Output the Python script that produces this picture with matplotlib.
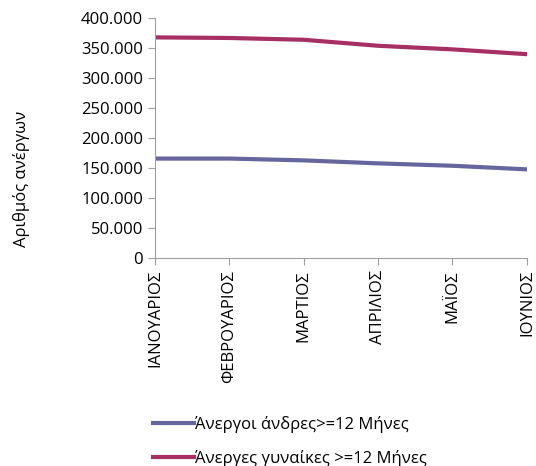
import matplotlib.pyplot as plt
from matplotlib.ticker import FuncFormatter

# Δεδομένα (εκτίμηση από το γράφημα)
months = ['ΙΑΝΟΥΑΡΙΟΣ', 'ΦΕΒΡΟΥΑΡΙΟΣ', 'ΜΑΡΤΙΟΣ', 'ΑΠΡΙΛΙΟΣ', 'ΜΑΪΟΣ', 'ΙΟΥΝΙΟΣ']
men = [166000, 166000, 163000, 158000, 154000, 148000]
women = [368000, 367000, 364000, 354000, 348000, 340000]
labels = ['Άνεργοι άνδρες>=12 Μήνες', 'Άνεργες γυναίκες >=12 Μήνες']

plt.rcParams['font.family'] = ['Open Sans', 'DejaVu Sans']

fig = plt.figure(figsize=(5.36, 4.66), dpi=100)
ax = fig.add_axes([0.289, 0.446, 0.694, 0.515])

x = range(len(months))
ax.plot(x, men, color='#66669F', lw=3, label=labels[0])
ax.plot(x, women, color='#A62F63', lw=3, label=labels[1])

ax.set_xlim(0, len(months) - 1)
ax.set_ylim(0, 400000)
ax.set_yticks(range(0, 400001, 50000))
ax.yaxis.set_major_formatter(FuncFormatter(lambda v, p: f'{int(v):,}'.replace(',', '.')))
ax.set_xticks(list(x))
ax.set_xticklabels(months, rotation=90, va='top', ha='center')

for s in ['top', 'right']:
    ax.spines[s].set_visible(False)
for s in ['left', 'bottom']:
    ax.spines[s].set_color('#A0A0A0')
ax.tick_params(colors='#A0A0A0', labelcolor='black', labelsize=12, length=5)
ax.set_ylabel('Αριθμός ανέργων', fontsize=12)
ax.yaxis.set_label_coords(-0.335, 0.33)

fig.legend(loc='upper left', bbox_to_anchor=(0.258, 0.14), frameon=False,
           fontsize=12, handlelength=2.45, handletextpad=0.05, labelspacing=1.05)

fig.savefig('out.png', dpi=100)
